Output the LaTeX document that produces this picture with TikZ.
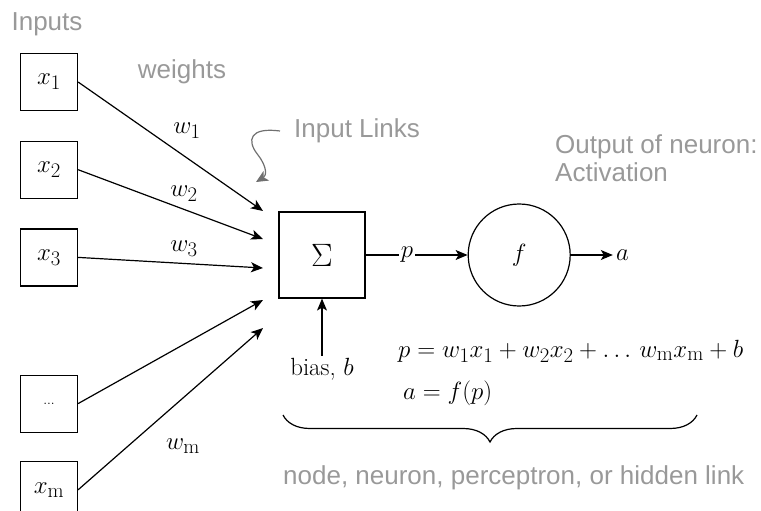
\documentclass[tikz,border=0pt]{standalone}
\usepackage{graphicx}
\usepackage{fontspec}
\setsansfont{Liberation Sans}
\usetikzlibrary{arrows.meta,positioning,decorations.pathreplacing}
\definecolor{labelgray}{RGB}{153,153,153}
\definecolor{curlgray}{RGB}{112,112,112}
\tikzset{
  inbox/.style={draw, line width=1.2pt, minimum width=57pt, minimum height=57pt, inner sep=0pt, font=\fontsize{24.88}{30}\selectfont},
  sumbox/.style={draw, line width=1.2pt, minimum width=86pt, minimum height=86pt, inner sep=0pt, font=\fontsize{24.88}{30}\selectfont},
  actnode/.style={draw, circle, line width=1.2pt, minimum size=102pt, inner sep=0pt, font=\fontsize{24.88}{30}\selectfont},
  arrow/.style={-{Stealth[length=12pt,width=10pt,inset=3pt]}, line width=1.2pt},
  curl/.style={-{Stealth[length=12pt,width=11pt,inset=3pt]}, line width=1.2pt, draw=curlgray},
  note/.style={text=labelgray, font=\sffamily\fontsize{26}{28}\selectfont, inner sep=0pt, align=left},
  mathlbl/.style={font=\fontsize{24.88}{30}\selectfont, inner sep=2pt}
}
\begin{document}
\begin{tikzpicture}[x=1pt, y=-1pt, node distance=29pt]
\useasboundingbox (0,0) rectangle (761,511);
\node[inbox] (in1) at (49,82) {$x_1$};
\node[inbox, below=29.5pt of in1] (in2) {$x_2$};
\node[inbox, below=29.5pt of in2] (in3) {$x_3$};
\node[inbox, below=88pt of in3] (indots) {\fontsize{14}{16}\selectfont ...};
\node[inbox, below=28pt of indots] (inm) {$x_{\mathrm{m}}$};
\node[sumbox] (sum) at (322,255) {\scalebox{1.3}{$\Sigma$}};
\node[actnode, right=102pt of sum] (act) {$f$};
\node[mathlbl] (p) at (407,255) {$p$};
\node[mathlbl, anchor=west, inner sep=3pt, right=42pt of act] (a) {$a$};
\node[mathlbl, below=57pt of sum] (bias) {bias, $b$};
\coordinate (t1) at (263,211);
\coordinate (t2) at (263,239);
\coordinate (t3) at (263,268);
\coordinate (t4) at (263,300);
\coordinate (t5) at (263,328);
\draw[arrow] (in1.east) -- (t1);
\draw[arrow] (in2.east) -- (t2);
\draw[arrow] (in3.east) -- (t3);
\draw[arrow] (indots.east) -- (t4);
\draw[arrow] (inm.east) -- (t5);
\node[mathlbl] (w1) at (187,131) {$w_1$};
\node[mathlbl] (w2) at (184,194) {$w_2$};
\node[mathlbl] (w3) at (184,249) {$w_3$};
\node[mathlbl] (wm) at (183,446) {$w_{\mathrm{m}}$};
\draw[line width=1.2pt] (sum.east) -- (p.west);
\draw[arrow] (p.east) -- (act.west);
\draw[arrow] (act.east) -- (a.west);
\draw[arrow] (bias.north) -- (sum.south);
\node[note] (inputs) at (47,24) {Inputs};
\node[note] (weights) at (182,72) {weights};
\node[note, anchor=west] (links) at (294,131) {Input Links};
\coordinate (linktip) at (256,182);
\draw[curl] ([xshift=-14pt]links.west) .. controls (250,127) and (246,140) .. (258,155) .. controls (268,168) and (266,176) .. (linktip);
\node[note, anchor=north west] (outlbl) at (555,134) {Output of neuron:\\Activation};
\node[mathlbl, anchor=west] (eq1) at (396,351) {$p = w_1x_1 + w_2x_2 + \ldots\, w_{\mathrm{m}}x_{\mathrm{m}} + b$};
\node[mathlbl, anchor=west] (eq2) at (401,393) {$a = f(p)$};
\coordinate (bl) at (283,415);
\coordinate (br) at (697,415);
\draw[line width=1.2pt, decorate, decoration={brace, amplitude=27pt}] (br) -- (bl);
\node[note, anchor=west] (role) at (283,478) {node, neuron, perceptron, or hidden link};
\end{tikzpicture}
\end{document}
